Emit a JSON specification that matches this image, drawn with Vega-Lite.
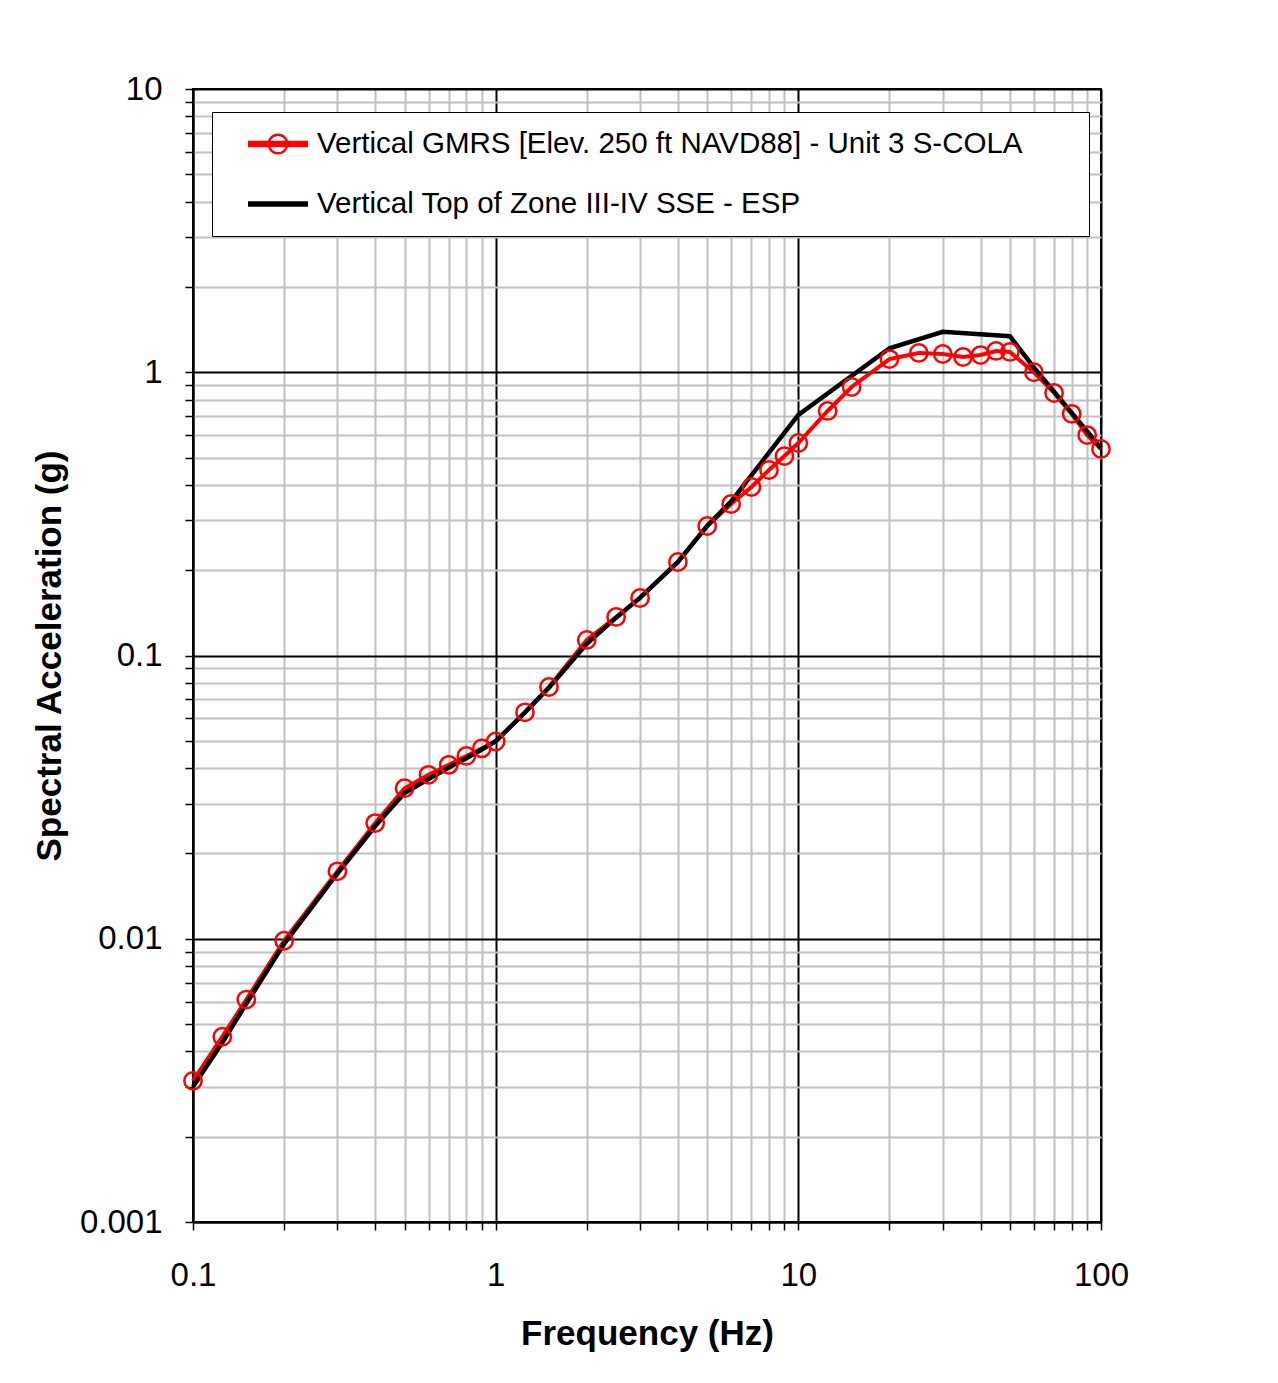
{
  "$schema": "https://vega.github.io/schema/vega-lite/v6.json",
  "width": 908,
  "height": 1133,
  "autosize": {"type": "none"},
  "padding": {"left": 193, "top": 89, "right": 177, "bottom": 161},
  "background": "white",
  "config": {
    "font": "Liberation Sans",
    "view": {"stroke": "black", "strokeWidth": 2},
    "axis": {
      "grid": true,
      "gridWidth": 2,
      "gridColor": {"condition": {"test": "abs(log(datum.value)/LN10 - round(log(datum.value)/LN10)) < 0.001", "value": "#000000"}, "value": "#c0c0c0"},
      "tickSize": 8,
      "tickWidth": 1.5,
      "tickColor": "#000000",
      "domainColor": "#000000",
      "domainWidth": 2,
      "labelFontSize": 33,
      "labelColor": "#000000",
      "labelFlush": false,
      "labelOverlap": false,
      "labelBound": false,
      "labelExpr": "abs(log(datum.value)/LN10 - round(log(datum.value)/LN10)) < 0.001 ? format(datum.value, '~g') : ''",
      "titleFontSize": 35,
      "titleFontWeight": "bold",
      "titleColor": "#000000"
    },
    "legend": {
      "orient": "none",
      "legendX": 19,
      "legendY": 23,
      "fillColor": "white",
      "strokeColor": "black",
      "strokeWidth": 1,
      "padding": 17,
      "labelFontSize": 29.5,
      "labelColor": "#000000",
      "labelLimit": 0,
      "symbolSize": 900,
      "symbolStrokeWidth": 0,
      "symbolOffset": 34,
      "labelOffset": 24,
      "rowPadding": 30
    }
  },
  "data": {
    "values": [
      {"f": 0.1, "v": 0.00315, "series": "Vertical GMRS [Elev. 250 ft NAVD88] - Unit 3 S-COLA"},
      {"f": 0.125, "v": 0.00451, "series": "Vertical GMRS [Elev. 250 ft NAVD88] - Unit 3 S-COLA"},
      {"f": 0.15, "v": 0.0061, "series": "Vertical GMRS [Elev. 250 ft NAVD88] - Unit 3 S-COLA"},
      {"f": 0.2, "v": 0.00984, "series": "Vertical GMRS [Elev. 250 ft NAVD88] - Unit 3 S-COLA"},
      {"f": 0.3, "v": 0.0173, "series": "Vertical GMRS [Elev. 250 ft NAVD88] - Unit 3 S-COLA"},
      {"f": 0.4, "v": 0.0256, "series": "Vertical GMRS [Elev. 250 ft NAVD88] - Unit 3 S-COLA"},
      {"f": 0.5, "v": 0.034, "series": "Vertical GMRS [Elev. 250 ft NAVD88] - Unit 3 S-COLA"},
      {"f": 0.6, "v": 0.0379, "series": "Vertical GMRS [Elev. 250 ft NAVD88] - Unit 3 S-COLA"},
      {"f": 0.7, "v": 0.0411, "series": "Vertical GMRS [Elev. 250 ft NAVD88] - Unit 3 S-COLA"},
      {"f": 0.8, "v": 0.0442, "series": "Vertical GMRS [Elev. 250 ft NAVD88] - Unit 3 S-COLA"},
      {"f": 0.9, "v": 0.0470, "series": "Vertical GMRS [Elev. 250 ft NAVD88] - Unit 3 S-COLA"},
      {"f": 1.0, "v": 0.0497, "series": "Vertical GMRS [Elev. 250 ft NAVD88] - Unit 3 S-COLA"},
      {"f": 1.25, "v": 0.063, "series": "Vertical GMRS [Elev. 250 ft NAVD88] - Unit 3 S-COLA"},
      {"f": 1.5, "v": 0.0774, "series": "Vertical GMRS [Elev. 250 ft NAVD88] - Unit 3 S-COLA"},
      {"f": 2, "v": 0.1135, "series": "Vertical GMRS [Elev. 250 ft NAVD88] - Unit 3 S-COLA"},
      {"f": 2.5, "v": 0.1368, "series": "Vertical GMRS [Elev. 250 ft NAVD88] - Unit 3 S-COLA"},
      {"f": 3, "v": 0.1596, "series": "Vertical GMRS [Elev. 250 ft NAVD88] - Unit 3 S-COLA"},
      {"f": 4, "v": 0.2138, "series": "Vertical GMRS [Elev. 250 ft NAVD88] - Unit 3 S-COLA"},
      {"f": 5, "v": 0.2865, "series": "Vertical GMRS [Elev. 250 ft NAVD88] - Unit 3 S-COLA"},
      {"f": 6, "v": 0.3427, "series": "Vertical GMRS [Elev. 250 ft NAVD88] - Unit 3 S-COLA"},
      {"f": 7, "v": 0.3934, "series": "Vertical GMRS [Elev. 250 ft NAVD88] - Unit 3 S-COLA"},
      {"f": 8, "v": 0.4517, "series": "Vertical GMRS [Elev. 250 ft NAVD88] - Unit 3 S-COLA"},
      {"f": 9, "v": 0.506, "series": "Vertical GMRS [Elev. 250 ft NAVD88] - Unit 3 S-COLA"},
      {"f": 10, "v": 0.5625, "series": "Vertical GMRS [Elev. 250 ft NAVD88] - Unit 3 S-COLA"},
      {"f": 12.5, "v": 0.73, "series": "Vertical GMRS [Elev. 250 ft NAVD88] - Unit 3 S-COLA"},
      {"f": 15, "v": 0.887, "series": "Vertical GMRS [Elev. 250 ft NAVD88] - Unit 3 S-COLA"},
      {"f": 20, "v": 1.113, "series": "Vertical GMRS [Elev. 250 ft NAVD88] - Unit 3 S-COLA"},
      {"f": 25, "v": 1.17, "series": "Vertical GMRS [Elev. 250 ft NAVD88] - Unit 3 S-COLA"},
      {"f": 30, "v": 1.16, "series": "Vertical GMRS [Elev. 250 ft NAVD88] - Unit 3 S-COLA"},
      {"f": 35, "v": 1.132, "series": "Vertical GMRS [Elev. 250 ft NAVD88] - Unit 3 S-COLA"},
      {"f": 40, "v": 1.15, "series": "Vertical GMRS [Elev. 250 ft NAVD88] - Unit 3 S-COLA"},
      {"f": 45, "v": 1.189, "series": "Vertical GMRS [Elev. 250 ft NAVD88] - Unit 3 S-COLA"},
      {"f": 50, "v": 1.18, "series": "Vertical GMRS [Elev. 250 ft NAVD88] - Unit 3 S-COLA"},
      {"f": 60, "v": 1.0, "series": "Vertical GMRS [Elev. 250 ft NAVD88] - Unit 3 S-COLA"},
      {"f": 70, "v": 0.845, "series": "Vertical GMRS [Elev. 250 ft NAVD88] - Unit 3 S-COLA"},
      {"f": 80, "v": 0.713, "series": "Vertical GMRS [Elev. 250 ft NAVD88] - Unit 3 S-COLA"},
      {"f": 90, "v": 0.6, "series": "Vertical GMRS [Elev. 250 ft NAVD88] - Unit 3 S-COLA"},
      {"f": 100, "v": 0.536, "series": "Vertical GMRS [Elev. 250 ft NAVD88] - Unit 3 S-COLA"},
      {"f": 0.1, "v": 0.0030, "series": "Vertical Top of Zone III-IV SSE - ESP"},
      {"f": 0.125, "v": 0.0043, "series": "Vertical Top of Zone III-IV SSE - ESP"},
      {"f": 0.15, "v": 0.0059, "series": "Vertical Top of Zone III-IV SSE - ESP"},
      {"f": 0.2, "v": 0.0096, "series": "Vertical Top of Zone III-IV SSE - ESP"},
      {"f": 0.3, "v": 0.0170, "series": "Vertical Top of Zone III-IV SSE - ESP"},
      {"f": 0.4, "v": 0.0250, "series": "Vertical Top of Zone III-IV SSE - ESP"},
      {"f": 0.5, "v": 0.0327, "series": "Vertical Top of Zone III-IV SSE - ESP"},
      {"f": 0.6, "v": 0.0366, "series": "Vertical Top of Zone III-IV SSE - ESP"},
      {"f": 0.7, "v": 0.0402, "series": "Vertical Top of Zone III-IV SSE - ESP"},
      {"f": 0.8, "v": 0.0434, "series": "Vertical Top of Zone III-IV SSE - ESP"},
      {"f": 0.9, "v": 0.0466, "series": "Vertical Top of Zone III-IV SSE - ESP"},
      {"f": 1.0, "v": 0.0498, "series": "Vertical Top of Zone III-IV SSE - ESP"},
      {"f": 1.25, "v": 0.063, "series": "Vertical Top of Zone III-IV SSE - ESP"},
      {"f": 1.5, "v": 0.077, "series": "Vertical Top of Zone III-IV SSE - ESP"},
      {"f": 2, "v": 0.110, "series": "Vertical Top of Zone III-IV SSE - ESP"},
      {"f": 2.5, "v": 0.136, "series": "Vertical Top of Zone III-IV SSE - ESP"},
      {"f": 3, "v": 0.160, "series": "Vertical Top of Zone III-IV SSE - ESP"},
      {"f": 4, "v": 0.214, "series": "Vertical Top of Zone III-IV SSE - ESP"},
      {"f": 5, "v": 0.287, "series": "Vertical Top of Zone III-IV SSE - ESP"},
      {"f": 6, "v": 0.35, "series": "Vertical Top of Zone III-IV SSE - ESP"},
      {"f": 10, "v": 0.707, "series": "Vertical Top of Zone III-IV SSE - ESP"},
      {"f": 20, "v": 1.215, "series": "Vertical Top of Zone III-IV SSE - ESP"},
      {"f": 30, "v": 1.39, "series": "Vertical Top of Zone III-IV SSE - ESP"},
      {"f": 50, "v": 1.34, "series": "Vertical Top of Zone III-IV SSE - ESP"},
      {"f": 60, "v": 1.04, "series": "Vertical Top of Zone III-IV SSE - ESP"},
      {"f": 100, "v": 0.54, "series": "Vertical Top of Zone III-IV SSE - ESP"}
    ]
  },
  "encoding": {
    "x": {
      "field": "f",
      "type": "quantitative",
      "scale": {"type": "log", "domain": [0.1, 100]},
      "title": "Frequency (Hz)",
      "axis": {
        "values": [0.1, 0.2, 0.3, 0.4, 0.5, 0.6, 0.7, 0.8, 0.9, 1, 2, 3, 4, 5, 6, 7, 8, 9, 10, 20, 30, 40, 50, 60, 70, 80, 90, 100],
        "labelPadding": 29,
        "titleX": 454,
        "titleY": 122,
        "titleBaseline": "alphabetic",
        "titleAlign": "center"
      }
    },
    "y": {
      "field": "v",
      "type": "quantitative",
      "scale": {"type": "log", "domain": [0.001, 10]},
      "title": "Spectral Acceleration (g)",
      "axis": {
        "values": [0.001, 0.002, 0.003, 0.004, 0.005, 0.006, 0.007, 0.008, 0.009, 0.01, 0.02, 0.03, 0.04, 0.05, 0.06, 0.07, 0.08, 0.09, 0.1, 0.2, 0.3, 0.4, 0.5, 0.6, 0.7, 0.8, 0.9, 1, 2, 3, 4, 5, 6, 7, 8, 9, 10],
        "labelPadding": 23,
        "titleX": -133,
        "titleY": 566.5,
        "titleBaseline": "alphabetic",
        "titleAlign": "center",
        "titleAngle": 270
      }
    },
    "color": {
      "field": "series",
      "type": "nominal",
      "title": null,
      "scale": {
        "domain": ["Vertical GMRS [Elev. 250 ft NAVD88] - Unit 3 S-COLA", "Vertical Top of Zone III-IV SSE - ESP"],
        "range": ["#ff0000", "#000000"]
      },
      "legend": {
        "encode": {
          "labels": {
            "update": {
              "text": {"signal": "datum.label + '\u00a0\u00a0\u00a0\u00a0\u00a0\u00a0\u200b'"}
            }
          },
          "symbols": {
            "update": {
              "shape": {"signal": "datum.value === 'Vertical GMRS [Elev. 250 ft NAVD88] - Unit 3 S-COLA' ? 'M-2,-0.22H2V0.22H-2Z M0.7,0A0.7,0.7 0 1,1 -0.7,0A0.7,0.7 0 1,1 0.7,0Z M0.54,0A0.54,0.54 0 1,0 -0.54,0A0.54,0.54 0 1,0 0.54,0Z' : 'M-2,-0.19H2V0.19H-2Z'"},
              "fill": {"signal": "datum.value === 'Vertical GMRS [Elev. 250 ft NAVD88] - Unit 3 S-COLA' ? '#ff0000' : '#000000'"},
              "fillOpacity": {"value": 1},
              "opacity": {"value": 1},
              "stroke": {"value": "transparent"},
              "strokeWidth": {"value": 0}
            }
          }
        }
      }
    }
  },
  "layer": [
    {
      "transform": [{"filter": "datum.series === 'Vertical GMRS [Elev. 250 ft NAVD88] - Unit 3 S-COLA'"}],
      "mark": {"type": "line", "strokeWidth": 4}
    },
    {
      "transform": [{"filter": "datum.series === 'Vertical Top of Zone III-IV SSE - ESP'"}],
      "mark": {"type": "line", "strokeWidth": 4.5}
    },
    {
      "transform": [{"filter": "datum.series === 'Vertical GMRS [Elev. 250 ft NAVD88] - Unit 3 S-COLA'"}],
      "mark": {"type": "point", "shape": "circle", "size": 300, "strokeWidth": 2.5, "filled": false, "opacity": 1}
    }
  ]
}
